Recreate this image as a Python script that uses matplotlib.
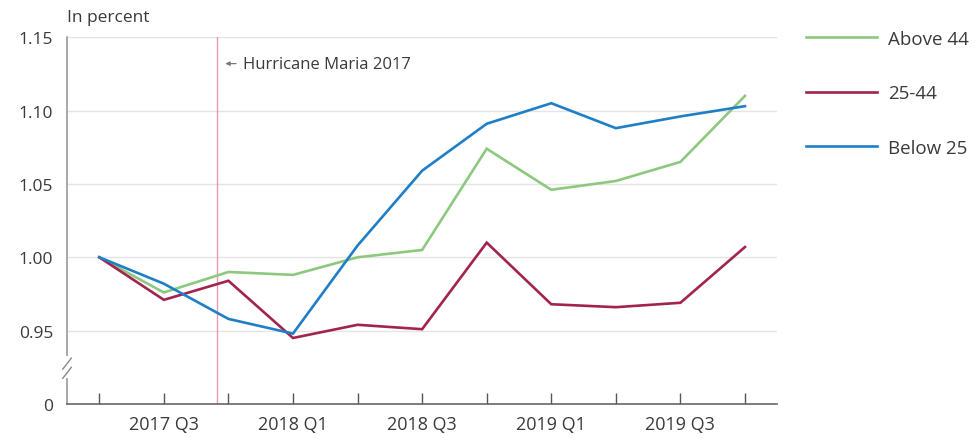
"""Age-group index chart around Hurricane Maria."""

import matplotlib.pyplot as plt
from matplotlib.lines import Line2D

plt.rcParams["font.family"] = ["Open Sans", "DejaVu Sans"]

QUARTERS = ["2017 Q2", "2017 Q3", "2017 Q4", "2018 Q1", "2018 Q2", "2018 Q3",
            "2018 Q4", "2019 Q1", "2019 Q2", "2019 Q3", "2019 Q4"]
ABOVE_44 = [1.000, 0.976, 0.990, 0.988, 1.000, 1.005, 1.074, 1.046, 1.052, 1.065, 1.110]
AGE_25_44 = [1.000, 0.971, 0.984, 0.945, 0.954, 0.951, 1.010, 0.968, 0.966, 0.969, 1.007]
BELOW_25 = [1.000, 0.982, 0.958, 0.948, 1.008, 1.059, 1.091, 1.105, 1.088, 1.096, 1.103]
SERIES_NAMES = ["Above 44", "25-44", "Below 25"]
COLORS = ["#8cc97e", "#a3234f", "#1f7fc6"]
Y_TICKS = [0.90, 0.95, 1.00, 1.05, 1.10, 1.15]
Y_TICK_LABELS = ["0", "0.95", "1.00", "1.05", "1.10", "1.15"]
HURRICANE_POS = 1.83  # between 2017 Q3 and Q4

TEXT = "#3a3a3a"

fig = plt.figure(figsize=(9.74, 4.39), dpi=100)
ax = fig.add_axes([0.0688, 0.0774, 0.7292, 0.8356])

x = list(range(len(QUARTERS)))
for vals, name, color in zip([ABOVE_44, AGE_25_44, BELOW_25], SERIES_NAMES, COLORS):
    ax.plot(x, vals, color=color, linewidth=1.9, label=name, zorder=3,
            solid_joinstyle="miter")

ax.set_xlim(-0.5, 10.5)
ax.set_ylim(0.90, 1.15)
ax.set_yticks(Y_TICKS)
ax.set_yticklabels(Y_TICK_LABELS)
for y in Y_TICKS[1:]:
    ax.axhline(y, color="#e4e4e4", linewidth=1.0, zorder=1)

ax.set_xticks(x)
ax.set_xticklabels([q if q.endswith(("Q1", "Q3")) and q != "2017 Q1" else "" for q in QUARTERS])
ax.tick_params(axis="x", direction="in", length=8, width=1.0, color="#555555",
               labelsize=13, labelcolor=TEXT, pad=8)
ax.tick_params(axis="y", length=0, labelsize=12.5, labelcolor=TEXT, pad=10)

for side in ["top", "right"]:
    ax.spines[side].set_visible(False)
ax.spines["left"].set_color("#9a9a9a")
ax.spines["left"].set_linewidth(1.2)
ax.spines["bottom"].set_color("#666666")
ax.spines["bottom"].set_linewidth(1.2)

# axis break marks on the y axis
brk = ax.transAxes
ax.add_patch(plt.Rectangle((-0.01, 0.07), 0.02, 0.06, transform=brk,
                           facecolor="white", edgecolor="none", zorder=4, clip_on=False))
for dy in (0.085, 0.11):
    ax.add_line(Line2D([-0.006, 0.006], [dy - 0.015, dy + 0.015], transform=brk,
                       color="#888888", linewidth=1.0, zorder=5, clip_on=False))

# hurricane marker
ax.axvline(HURRICANE_POS, color="#e79aab", linewidth=1.0, zorder=2)
ax.annotate("", xy=(HURRICANE_POS + 0.08, 1.132), xytext=(HURRICANE_POS + 0.33, 1.132),
            arrowprops=dict(arrowstyle="-|>", color="#777777", lw=0.9, mutation_scale=6))
ax.text(HURRICANE_POS + 0.4, 1.132, "Hurricane Maria 2017", color=TEXT,
        fontsize=12, va="center", ha="left")

fig.text(0.0688, 0.96, "In percent", color=TEXT, fontsize=12.5, ha="left", va="center")

ax.legend(loc="upper left", bbox_to_anchor=(1.017, 1.066), frameon=False,
          fontsize=13.5, labelcolor=TEXT, handlelength=3.8, handletextpad=0.55,
          labelspacing=1.95)

fig.savefig("out.png", dpi=100)
